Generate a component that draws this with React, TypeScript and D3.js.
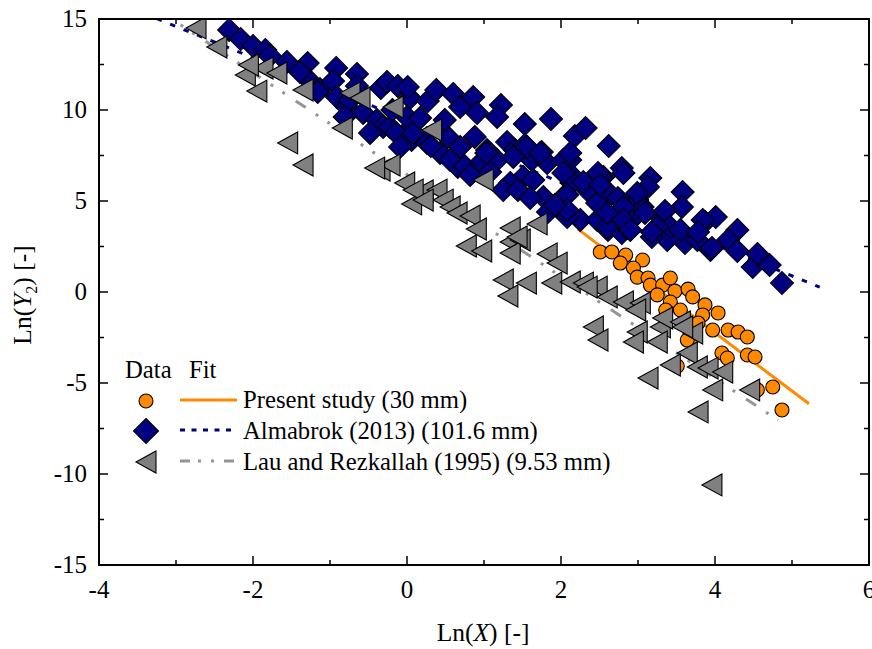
import React from 'react';
import * as d3 from 'd3';

// ---------- data ----------
const presentX = [2.51, 2.66, 2.84, 3.06, 2.77, 2.94, 2.99, 3.13, 3.16, 3.32, 3.42, 3.48, 3.65, 3.25, 3.71, 3.87, 3.42, 3.55, 4.04, 3.84, 4.17, 4.30, 4.42, 3.97, 3.78, 3.70, 4.09, 4.16, 4.42, 4.52, 4.75, 4.87, 4.55, 3.51, 3.36, 3.64];
const presentY = [2.20, 2.20, 2.03, 1.76, 1.59, 1.32, 0.82, 0.77, 0.38, 0.38, 0.77, 0.05, 0.16, -0.16, -0.27, -0.71, -0.55, -0.99, -1.15, -1.26, -2.09, -2.20, -2.47, -2.09, -1.70, -2.53, -3.35, -3.63, -3.46, -3.57, -5.22, -6.48, -5.38, -4.07, -0.99, -2.64];

const almabrokX = [-2.31, -2.16, -2.00, -1.84, -1.78, -1.56, -1.29, -1.30, -1.13, -0.92, -0.96, -0.65, -0.65, -0.34, -0.26, -0.12, 0.04, 0.01, 0.27, 0.38, 0.60, 0.69, 0.86, 0.91, 1.22, 1.17, 1.53, 1.87, 2.18, 2.32, 2.62, 2.79, 3.16, 3.13, 3.58, 3.57, 3.87, 4.01, 4.29, 4.17, 4.29, 4.49, 4.55, 4.71, 4.87, 3.94, 3.61, 3.38, 3.18, 3.77, 2.94, 2.61, 2.79, 3.29, 2.99, 2.61, 2.55, 2.81, 3.06, 3.35, 3.42, 3.55, 3.84, 3.78, 3.96, -0.91, -0.78, -0.57, -0.39, -0.31, -0.22, -0.05, -0.14, 0.06, 0.00, 0.08, 0.26, 0.43, 0.53, 0.69, 0.66, 0.88, 1.04, 0.95, 1.17, 1.30, 1.40, 1.53, 1.62, 1.75, 1.82, 1.51, 1.64, 1.34, 1.25, 1.77, 2.03, 2.12, 2.16, 2.35, 2.51, 2.61, 2.74, 2.25, 2.47, 2.60, 2.81, 2.86, 3.09, 3.25, 1.83, 1.96, 2.08, 2.14, 2.08, 2.08, 2.34, 2.47, 2.60, 2.81, 2.90, 3.18, 1.03, 1.38, 1.56, 1.73, 2.03, 2.12, 2.03, 2.29, 2.48, 2.51, 2.99, 0.31, 0.56, 0.75, 1.08, 1.44, 1.60, 1.92, -1.39, -1.16, -0.74, -0.19, 0.17, 0.49, -0.48, -0.81, -0.09, 0.82];
const almabrokY = [14.40, 13.90, 13.52, 13.30, 12.97, 12.64, 12.58, 11.76, 11.15, 12.31, 11.59, 11.98, 11.32, 11.21, 11.54, 11.32, 10.66, 11.26, 10.49, 11.10, 10.88, 10.16, 10.71, 9.84, 10.27, 9.62, 9.23, 9.51, 8.57, 9.01, 8.02, 6.81, 6.26, 5.77, 5.49, 4.67, 3.85, 4.12, 3.41, 2.86, 2.25, 1.37, 2.09, 1.48, 0.49, 2.31, 2.69, 2.86, 3.02, 2.86, 4.07, 3.41, 3.24, 4.12, 5.05, 5.22, 6.32, 6.54, 4.67, 4.45, 3.57, 3.41, 3.96, 3.30, 2.42, 10.71, 10.16, 9.84, 9.45, 9.07, 9.07, 8.63, 8.74, 8.35, 9.62, 8.74, 8.19, 7.64, 8.52, 7.97, 6.87, 8.52, 7.80, 7.09, 7.25, 8.24, 7.80, 8.08, 7.25, 7.69, 7.09, 6.32, 6.15, 5.99, 5.60, 5.22, 5.22, 7.25, 6.32, 5.77, 6.32, 5.49, 5.16, 3.96, 3.96, 3.57, 4.67, 3.52, 4.34, 3.57, 4.40, 4.67, 4.12, 5.99, 5.33, 4.51, 5.60, 4.89, 4.34, 3.96, 3.41, 3.30, 7.64, 7.42, 7.97, 7.64, 7.25, 7.64, 6.54, 6.04, 6.54, 5.88, 5.44, 8.02, 7.25, 6.92, 6.59, 5.60, 5.16, 4.78, 12.09, 10.99, 10.55, 10.00, 9.56, 9.45, 8.74, 9.62, 7.97, 6.43];

const lauX = [-2.74, -2.47, -2.10, -1.95, -1.87, -1.69, -2.06, -1.35, -0.74, -0.61, -0.18, -0.84, -1.55, -1.35, -0.35, -0.22, -0.42, -0.03, 0.06, 0.32, 0.99, 0.21, 0.39, 0.47, 0.56, 0.65, 0.82, 0.90, 0.77, 0.97, 1.34, 1.69, 1.34, 1.47, 1.82, 1.34, 1.95, 1.25, 1.55, 1.31, 1.88, 2.12, 2.29, 2.47, 2.60, 2.81, 3.03, 2.42, 2.48, 2.99, 2.94, 3.29, 3.25, 3.32, 3.55, 3.71, 3.64, 3.42, 3.77, 3.91, 4.10, 3.13, 3.97, 4.45, 3.78, 3.96, 2.97, 3.58, 0.08, 0.21, 1.43, 2.34];
const lauY = [14.51, 13.46, 11.92, 11.04, 12.31, 12.03, 12.47, 11.10, 10.93, 10.66, 10.16, 9.01, 8.19, 6.98, 6.70, 6.98, 6.81, 5.99, 4.84, 8.90, 6.15, 5.55, 5.60, 5.05, 4.67, 4.34, 4.18, 3.46, 2.53, 2.25, 3.52, 3.74, 2.75, 2.86, 2.09, 2.14, 1.59, 0.66, 0.49, -0.22, 0.49, 0.55, 0.49, 0.27, -0.27, -0.55, -0.60, -1.92, -2.64, -2.20, -2.75, -1.92, -2.75, -1.43, -1.65, -2.25, -3.35, -4.01, -4.12, -4.18, -4.40, -4.73, -5.38, -5.38, -6.59, -10.60, -0.99, -1.92, 5.60, 5.05, 3.02, 0.27];

// fitted lines: y = intercept + slope * x over [xMin, xMax]
const fitPresent = { intercept: 10.56, slope: -3.2, xMin: 2.22, xMax: 5.22 };
const fitAlmabrok = { intercept: 9.45, slope: -1.713, xMin: -3.6, xMax: 5.36 };
const fitLau = { intercept: 6.45, slope: -2.8, xMin: -3.2, xMax: 4.82 };

const xTicks = [-4, -2, 0, 2, 4, 6];
const xMinorTicks = [-3, -1, 1, 3, 5];
const yTicks = [-15, -10, -5, 0, 5, 10, 15];
const yMinorTicks = [-12.5, -7.5, -2.5, 2.5, 7.5, 12.5];

const legendLabels = ['Present study (30 mm)', 'Almabrok (2013) (101.6 mm)', 'Lau and Rezkallah (1995) (9.53 mm)'];

const ORANGE = '#FF8A00';
const NAVY = '#000080';
const GRAY = '#808080';
const GRAYLINE = '#959595';
const FONT = "'Liberation Serif', 'Times New Roman', serif";

const L = 99, R = 869, T = 19, B = 565;

function diamond(cx: number, cy: number, h: number) {
  return `M${cx},${cy - h}L${cx + h},${cy}L${cx},${cy + h}L${cx - h},${cy}Z`;
}
function leftTri(cx: number, cy: number, w: number, h: number) {
  return `M${cx - w},${cy}L${cx + w},${cy - h}L${cx + w},${cy + h}Z`;
}

export default function App() {
  const x = d3.scaleLinear().domain([-4, 6]).range([L, R]);
  const y = d3.scaleLinear().domain([-15, 15]).range([B, T]);
  const line = d3.line<[number, number]>().x(d => x(d[0])).y(d => y(d[1]));
  const fitPath = (f: { intercept: number; slope: number; xMin: number; xMax: number }) =>
    line([[f.xMin, f.intercept + f.slope * f.xMin], [f.xMax, f.intercept + f.slope * f.xMax]]) || '';

  return (
    <svg width={872} height={649} style={{ position: 'absolute', left: 0, top: 0, background: '#fff' }} fontFamily={FONT}>
      <defs>
        <clipPath id="plot"><rect x={L} y={T} width={R - L} height={B - T} /></clipPath>
      </defs>
      <rect x={0} y={0} width={872} height={649} fill="#fff" />
      {/* fit lines */}
      <g clipPath="url(#plot)" fill="none">
        <path d={fitPath(fitAlmabrok)} stroke={NAVY} strokeWidth={3} strokeDasharray="5.5,9" />
        <path d={fitPath(fitLau)} stroke={GRAYLINE} strokeWidth={3} strokeDasharray="12,12,3,11,3,13" />
        <path d={fitPath(fitPresent)} stroke={ORANGE} strokeWidth={3} />
      </g>
      {/* markers */}
      <g clipPath="url(#plot)">
        {presentX.map((v, i) => (
          <circle key={'c' + i} cx={x(v)} cy={y(presentY[i])} r={7} fill={ORANGE} stroke="#000" strokeWidth={1.1} />
        ))}
        {almabrokX.map((v, i) => (
          <path key={'d' + i} d={diamond(x(v), y(almabrokY[i]), 11.5)} fill={NAVY} stroke="#000" strokeWidth={1.1} />
        ))}
        {lauX.map((v, i) => (
          <path key={'t' + i} d={leftTri(x(v), y(lauY[i]), 10, 11)} fill={GRAY} stroke="#000" strokeWidth={1.1} />
        ))}
      </g>
      {/* frame */}
      <rect x={L} y={T} width={R - L} height={B - T} fill="none" stroke="#000" strokeWidth={2} />
      {/* ticks */}
      <g stroke="#000" strokeWidth={1.5}>
        {xTicks.map(t => (
          <g key={'xt' + t}>
            <line x1={x(t)} x2={x(t)} y1={B} y2={B - 9} />
            <line x1={x(t)} x2={x(t)} y1={T} y2={T + 9} />
          </g>
        ))}
        {xMinorTicks.map(t => (
          <g key={'xm' + t}>
            <line x1={x(t)} x2={x(t)} y1={B} y2={B - 5} />
            <line x1={x(t)} x2={x(t)} y1={T} y2={T + 5} />
          </g>
        ))}
        {yTicks.map(t => (
          <g key={'yt' + t}>
            <line x1={L} x2={L + 9} y1={y(t)} y2={y(t)} />
            <line x1={R} x2={R - 9} y1={y(t)} y2={y(t)} />
          </g>
        ))}
        {yMinorTicks.map(t => (
          <g key={'ym' + t}>
            <line x1={L} x2={L + 5} y1={y(t)} y2={y(t)} />
            <line x1={R} x2={R - 5} y1={y(t)} y2={y(t)} />
          </g>
        ))}
      </g>
      {/* tick labels */}
      <g fontSize={25} fill="#000">
        {xTicks.map(t => (
          <text key={'xl' + t} x={x(t)} y={598} textAnchor="middle">{t}</text>
        ))}
        {yTicks.map(t => (
          <text key={'yl' + t} x={87} y={y(t) + 8} textAnchor="end">{t}</text>
        ))}
      </g>
      {/* axis titles */}
      <text x={483} y={641} fontSize={25.5} textAnchor="middle">
        Ln(<tspan fontStyle="italic">X</tspan>) [-]
      </text>
      <text transform="translate(31,295) rotate(-90)" fontSize={25.5} textAnchor="middle">
        Ln(<tspan fontStyle="italic">Y</tspan><tspan fontSize={16} dy={6}>2</tspan><tspan dy={-6}>) [-]</tspan>
      </text>
      {/* legend */}
      <g fontSize={24.7}>
        <text x={125} y={378}>Data</text>
        <text x={189} y={378}>Fit</text>
        <circle cx={146} cy={401} r={7} fill={ORANGE} stroke="#000" strokeWidth={1.1} />
        <line x1={180} x2={237} y1={400} y2={400} stroke={ORANGE} strokeWidth={3} />
        <text x={243} y={408}>{legendLabels[0]}</text>
        <path d={diamond(146, 431, 12.5)} fill={NAVY} stroke="#000" strokeWidth={1.1} />
        <line x1={180} x2={237} y1={430} y2={430} stroke={NAVY} strokeWidth={3} strokeDasharray="5,6.5" />
        <text x={243} y={439}>{legendLabels[1]}</text>
        <path d={leftTri(146, 462, 10, 11)} fill={GRAY} stroke="#000" strokeWidth={1.1} />
        <line x1={180} x2={237} y1={461} y2={461} stroke={GRAYLINE} strokeWidth={3} strokeDasharray="10,8,3,10,3,10" />
        <text x={243} y={470}>{legendLabels[2]}</text>
      </g>
    </svg>
  );
}
